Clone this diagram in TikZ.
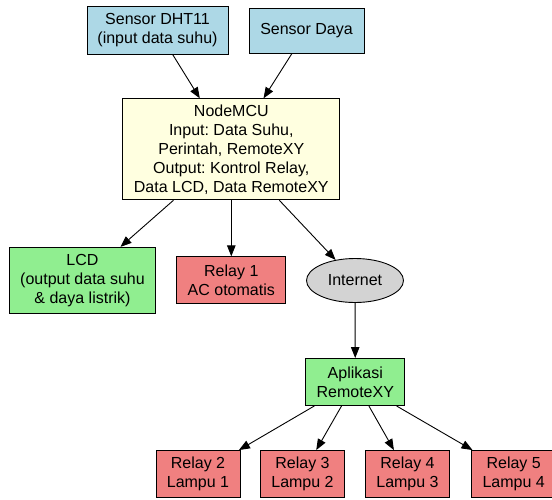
\documentclass[tikz,border=0pt]{standalone}
\usepackage{fontspec}
\setmainfont{Liberation Sans}
\usetikzlibrary{arrows.meta,shapes.geometric}
\definecolor{sensorblue}{HTML}{ADD8E6}
\definecolor{mcuyellow}{HTML}{FFFFE0}
\definecolor{outgreen}{HTML}{90EE90}
\definecolor{relayred}{HTML}{F08080}
\definecolor{netgray}{HTML}{D3D3D3}
\frenchspacing

\begin{document}
\begin{tikzpicture}[x=1pt,y=-1pt,
    box/.style={draw=black,line width=0.9pt,align=center,inner sep=0pt,
      font=\fontsize{16}{19}\selectfont},
    sensor/.style={box,fill=sensorblue},
    mcu/.style={box,fill=mcuyellow},
    outbox/.style={box,fill=outgreen},
    relay/.style={box,fill=relayred,minimum width=84,minimum height=47},
    cloud/.style={box,ellipse,fill=netgray},
    arr/.style={-{Triangle[length=11pt,width=8.5pt]},line width=0.9pt}]
  \useasboundingbox (0,0) rectangle (552,499);
  % inputs
  \node[sensor,minimum width=141,minimum height=48] (dht) at (157.5,30) {Sensor DHT11\\(input data suhu)};
  \node[sensor,minimum width=115,minimum height=45] (daya) at (306.5,30.5) {Sensor Daya};
  % controller
  \node[mcu,minimum width=217,minimum height=101] (mcu) at (231.3,149.3)
    {NodeMCU\\Input: Data Suhu,\\Perintah, RemoteXY\\Output: Kontrol Relay,\\Data LCD, Data RemoteXY};
  % outputs
  \node[outbox,minimum width=146,minimum height=66] (lcd) at (82.5,280.3) {LCD\\(output data suhu\\\& daya listrik)};
  \node[relay,minimum width=109] (r1) at (231.3,280.3) {Relay 1\\AC otomatis};
  \node[cloud,minimum width=97,minimum height=44] (net) at (355,280.5) {Internet};
  \node[outbox,minimum width=99,minimum height=47] (app) at (355.3,382) {Aplikasi\\RemoteXY};
  \foreach \i/\x [evaluate=\i as \j using {int(\i-1)}] in {2/198, 3/302.5, 4/407.5, 5/513.7}{
    \node[relay] (r\i) at (\x,474) {Relay \i\\Lampu \j};
  }
  % connections
  \draw[arr] (dht)--(mcu);
  \draw[arr] (daya)--(mcu);
  \draw[arr] (mcu)--(lcd);
  \draw[arr] (mcu)--(r1);
  \draw[arr] (mcu)--(net);
  \draw[arr] (net)--(app);
  \foreach \i in {2,...,5}{
    \draw[arr] (app)--(r\i);
  }
\end{tikzpicture}
\end{document}
